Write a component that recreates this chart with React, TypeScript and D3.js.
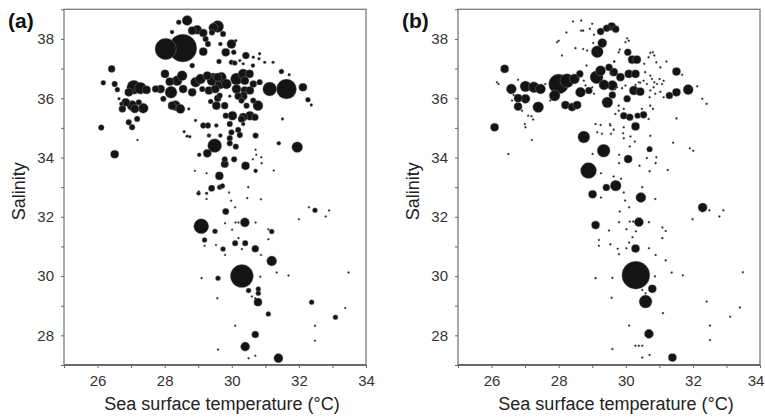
import { useEffect, useRef, RefObject } from "react";
import * as d3 from "d3";

// [sea surface temperature (°C), salinity, abundance]
const panelA: number[][] = [
  [26.42, 36.99, 6], [26.17, 36.52, 3], [26.51, 36.48, 4], [26.59, 36.29, 3],
  [27.08, 36.37, 23], [27.28, 36.34, 17], [27.46, 36.28, 8], [26.93, 36.2, 8],
  [26.84, 35.86, 8], [27.03, 35.75, 12], [26.74, 35.64, 6], [27.11, 35.64, 8],
  [27.36, 35.66, 12], [27.23, 35.86, 4], [27.18, 35.3, 4], [26.93, 35.19, 4],
  [27.03, 35.02, 4], [26.11, 35.01, 4], [26.64, 35.98, 1], [26.71, 35.81, 2],
  [26.51, 34.11, 8], [27.19, 34.59, 0.5],
  [27.73, 36.31, 6], [27.88, 36.31, 8], [27.96, 35.98, 4], [28.19, 36.2, 17],
  [28.01, 36.82, 8], [28.15, 36.56, 8], [28.37, 36.59, 12], [28.52, 36.76, 12],
  [28.55, 36.31, 8], [28.32, 35.75, 12], [28.47, 35.64, 10], [28.22, 35.75, 8],
  [28.03, 37.66, 54], [28.54, 37.69, 93], [29.15, 37.57, 8], [28.82, 37.1, 3],
  [28.67, 38.62, 12], [28.42, 38.56, 3], [28.22, 38.23, 2], [28.82, 38.28, 8],
  [28.97, 38.31, 10], [29.15, 38.2, 8], [29.22, 38.0, 4], [29.29, 37.83, 4],
  [29.58, 38.42, 17], [29.45, 38.38, 10], [29.41, 38.22, 4], [29.66, 37.83, 2],
  [28.92, 36.54, 12], [29.07, 36.65, 12], [29.27, 36.76, 8], [29.41, 36.59, 12],
  [29.58, 36.71, 8], [29.66, 36.48, 12], [28.82, 36.2, 8], [29.12, 36.31, 4],
  [29.32, 36.26, 8], [29.51, 36.31, 8], [28.72, 35.64, 1], [28.92, 35.25, 1],
  [29.15, 35.08, 4], [29.29, 35.08, 4], [29.54, 35.08, 2], [29.37, 35.89, 3],
  [29.58, 36.0, 6], [29.32, 34.74, 2], [29.66, 34.74, 2], [28.67, 34.72, 1],
  [29.74, 38.17, 4], [29.99, 37.83, 10], [30.12, 37.94, 1], [29.82, 37.55, 8],
  [30.06, 37.55, 3], [30.42, 37.44, 6], [30.64, 37.38, 1], [30.83, 37.5, 1],
  [30.81, 37.33, 1], [30.98, 37.21, 1], [31.23, 37.21, 1], [30.24, 37.27, 1],
  [30.34, 37.16, 1], [29.62, 37.24, 3], [29.99, 37.21, 3], [30.09, 37.19, 3],
  [30.63, 37.1, 2], [31.48, 36.9, 3], [31.71, 36.79, 1],
  [29.44, 36.65, 17], [29.69, 36.71, 12], [29.84, 36.48, 12], [30.14, 36.65, 17],
  [30.34, 36.82, 12], [30.53, 36.82, 8], [30.39, 36.59, 8], [30.64, 36.48, 6],
  [30.14, 36.31, 10], [30.39, 36.26, 8], [30.54, 36.26, 8], [30.83, 36.54, 4],
  [31.13, 36.31, 23], [31.63, 36.31, 48], [32.12, 36.37, 8], [32.27, 35.95, 3],
  [32.37, 35.77, 1], [31.51, 35.3, 1], [30.78, 35.75, 12], [30.64, 35.92, 4],
  [30.44, 35.75, 4], [30.29, 35.92, 4], [30.34, 36.07, 8], [30.19, 36.07, 6],
  [29.94, 36.07, 1], [29.64, 36.09, 4], [29.79, 35.75, 6], [29.54, 35.75, 8],
  [29.82, 35.41, 4], [30.02, 35.41, 10], [30.29, 35.3, 6], [30.34, 35.36, 8],
  [30.54, 35.41, 10], [30.69, 35.36, 6], [29.94, 35.13, 4], [30.34, 35.13, 2],
  [29.99, 34.85, 4], [30.71, 34.74, 4], [29.94, 34.65, 4], [29.94, 34.48, 4],
  [30.19, 34.93, 4], [30.24, 34.76, 4],
  [29.49, 34.4, 23], [29.27, 34.14, 8], [29.03, 34.09, 2], [30.12, 34.37, 4],
  [29.79, 33.94, 4], [29.79, 33.78, 7], [30.07, 33.94, 4], [30.41, 33.72, 8],
  [30.71, 33.55, 2], [31.4, 34.48, 2], [31.95, 34.35, 14], [29.63, 33.38, 8],
  [29.4, 32.96, 5], [29.64, 33.0, 3], [29.72, 33.04, 3], [29.01, 32.79, 2], [29.25, 32.79, 1],
  [28.58, 34.87, 1], [28.75, 34.7, 1],
  [29.82, 32.18, 5], [29.09, 31.68, 27], [30.39, 31.81, 10], [29.5, 31.51, 3],
  [31.19, 31.5, 3], [29.19, 31.22, 3], [30.1, 31.11, 4], [30.4, 31.11, 4],
  [29.74, 30.91, 3], [30.7, 30.92, 6], [31.19, 30.51, 12], [30.3, 30.0, 63],
  [29.59, 29.93, 3], [30.5, 29.51, 3], [30.79, 29.56, 3], [30.79, 29.42, 3],
  [30.78, 29.12, 8], [32.38, 29.12, 3], [31.09, 28.72, 3], [33.09, 28.61, 3],
  [30.7, 28.03, 6], [30.4, 27.62, 10], [31.39, 27.23, 10], [32.48, 32.22, 3],
  [29.3, 34.76, 0.5], [30.71, 34.26, 0.5], [30.73, 34.09, 0.5], [30.63, 33.94, 0.5],
  [30.88, 34.01, 0.5], [30.89, 33.81, 0.5], [31.25, 33.56, 0.5], [28.9, 33.55, 0.5],
  [29.25, 33.47, 0.5], [29.92, 32.82, 0.5], [30.49, 33.0, 0.5], [29.02, 32.85, 0.5],
  [29.25, 32.6, 0.5], [29.98, 32.54, 0.5], [30.46, 32.63, 0.5], [30.87, 32.59, 0.5],
  [30.1, 32.32, 0.5], [29.8, 31.78, 0.5], [30.11, 31.81, 0.5], [30.2, 31.81, 0.5],
  [30.71, 31.81, 0.5], [31.09, 31.58, 0.5], [31.09, 31.24, 0.5], [30.2, 31.28, 0.5],
  [30.01, 31.56, 0.5], [29.19, 31.02, 0.5], [29.53, 31.05, 0.5], [30.3, 30.91, 0.5],
  [29.8, 30.71, 0.5], [30.87, 30.71, 0.5], [31.34, 30.12, 0.5], [31.69, 30.02, 0.5],
  [30.85, 29.98, 0.5], [33.48, 30.12, 0.5], [29.1, 29.93, 0.5], [30.6, 29.31, 0.5],
  [30.7, 29.25, 0.5], [29.57, 29.25, 0.5], [33.38, 28.92, 0.5], [30.1, 28.32, 0.5],
  [32.48, 28.32, 0.5], [32.48, 27.82, 0.5], [29.59, 27.52, 0.5], [30.5, 27.23, 0.5],
  [30.7, 27.31, 0.5], [32.3, 32.32, 0.5], [32.9, 32.21, 0.5], [32.8, 32.01, 0.5],
  [32.0, 31.92, 0.5],
];

const panelB: number[][] = [
  [26.39, 36.99, 8], [26.59, 36.31, 12], [26.79, 36.0, 8], [27.01, 35.98, 10],
  [26.79, 35.72, 8], [27.01, 36.4, 14], [27.26, 36.37, 14], [27.46, 36.31, 12],
  [27.39, 35.7, 14], [26.09, 35.02, 8], [28.0, 36.48, 48], [28.25, 36.59, 23],
  [27.88, 36.09, 14], [28.2, 35.77, 8], [28.4, 35.7, 8], [28.55, 35.77, 8],
  [28.47, 36.65, 12], [28.63, 36.82, 6], [28.65, 36.2, 12], [28.9, 36.26, 6],
  [29.13, 36.71, 20], [29.25, 36.93, 12], [29.15, 37.57, 17], [29.3, 37.86, 10],
  [29.25, 38.25, 6], [29.43, 38.36, 6], [29.58, 38.42, 8], [29.7, 38.33, 6],
  [29.45, 35.86, 14], [29.6, 36.11, 6], [29.6, 36.43, 12], [29.5, 37.04, 6],
  [29.35, 36.45, 12],
  [30.06, 37.55, 6], [30.19, 37.3, 8], [30.33, 37.3, 8], [29.64, 36.88, 8],
  [29.84, 36.71, 8], [30.09, 36.82, 8], [30.29, 36.82, 8], [31.51, 36.9, 8],
  [30.24, 36.26, 10], [30.43, 36.22, 8], [30.04, 35.98, 6], [31.3, 36.09, 6],
  [31.51, 36.2, 8], [31.86, 36.29, 12], [29.94, 35.41, 6], [30.12, 35.36, 6],
  [30.35, 35.41, 4], [30.53, 35.44, 6], [30.29, 35.05, 8],
  [28.75, 34.69, 17], [29.34, 34.23, 20], [28.89, 33.56, 30], [30.07, 33.95, 8],
  [30.71, 34.28, 4], [29.42, 32.99, 6], [29.7, 33.05, 14], [29.01, 32.76, 8],
  [30.45, 32.65, 12], [32.29, 32.31, 10], [29.1, 31.72, 8], [30.39, 31.82, 10],
  [30.29, 30.93, 8], [30.3, 30.03, 93], [30.79, 29.57, 8], [30.59, 29.14, 20],
  [30.69, 28.05, 10], [31.39, 27.25, 8],
  // very small catches
  [28.43, 38.59, 0.5], [28.67, 38.62, 0.5], [29.0, 38.51, 0.5], [28.23, 38.22, 0.5],
  [28.67, 38.28, 0.5], [28.73, 38.28, 0.5], [28.93, 38.34, 0.5], [29.05, 38.14, 0.5],
  [27.95, 37.89, 0.5], [28.0, 37.94, 0.5], [28.5, 37.69, 0.5], [28.73, 37.66, 0.5],
  [28.85, 37.61, 0.5], [28.1, 37.44, 0.5], [29.03, 37.86, 0.5], [28.83, 37.1, 0.5],
  [26.16, 36.54, 0.5], [26.21, 36.48, 0.5], [26.79, 36.62, 0.5], [26.61, 35.92, 0.5],
  [26.91, 35.58, 0.5], [27.09, 35.41, 0.5], [27.19, 35.39, 0.5], [27.24, 35.28, 0.5],
  [26.99, 35.13, 0.5], [27.01, 35.02, 0.5], [26.66, 36.11, 0.5], [27.6, 36.48, 0.5],
  [27.75, 35.92, 0.5], [28.75, 36.59, 0.5], [28.8, 36.43, 0.5], [29.0, 36.37, 0.5],
  [29.05, 36.15, 0.5], [29.65, 37.24, 0.5], [29.55, 36.82, 0.5], [29.68, 36.31, 0.5],
  [29.1, 35.13, 0.5], [29.25, 35.1, 0.5], [29.53, 35.13, 0.5], [29.15, 34.85, 0.5],
  [26.5, 34.12, 0.5],
  [30.04, 38.02, 0.5], [30.09, 37.94, 0.5], [29.99, 37.89, 0.5], [29.82, 37.64, 0.5],
  [29.79, 37.55, 0.5], [29.66, 37.24, 0.5], [30.73, 37.53, 0.5], [30.81, 37.55, 0.5],
  [30.85, 37.44, 0.5], [30.68, 37.38, 0.5], [30.91, 37.21, 0.5], [30.55, 37.16, 0.5],
  [31.21, 37.24, 0.5], [31.03, 37.04, 0.5], [30.58, 36.88, 0.5], [30.73, 36.76, 0.5],
  [30.78, 36.65, 0.5], [30.85, 36.54, 0.5], [30.93, 36.48, 0.5], [31.08, 36.48, 0.5],
  [31.13, 36.59, 0.5], [31.01, 36.65, 0.5], [30.53, 36.59, 0.5], [30.43, 36.52, 0.5],
  [30.63, 36.48, 0.5], [30.73, 36.26, 0.5], [30.83, 36.37, 0.5], [30.88, 36.15, 0.5],
  [31.03, 36.22, 0.5], [31.13, 36.03, 0.5], [30.71, 36.03, 0.5], [29.74, 36.37, 0.5],
  [29.89, 36.34, 0.5], [29.99, 36.43, 0.5], [30.29, 36.45, 0.5], [30.39, 36.54, 0.5],
  [32.28, 35.98, 0.5], [32.41, 35.81, 0.5], [32.13, 36.4, 0.5], [31.68, 36.79, 0.5],
  [31.51, 35.32, 0.5], [29.79, 35.75, 0.5], [29.94, 35.64, 0.5], [29.79, 35.58, 0.5],
  [29.69, 35.47, 0.5], [30.73, 35.75, 0.5], [30.81, 35.64, 0.5], [30.48, 35.64, 0.5],
  [30.68, 35.3, 0.5], [29.54, 35.08, 0.5], [29.64, 34.94, 0.5], [29.94, 35.02, 0.5],
  [27.2, 34.59, 0.5], [29.29, 34.8, 0.5], [29.56, 34.8, 0.5], [29.92, 34.82, 0.5],
  [29.94, 34.65, 0.5], [30.14, 34.71, 0.5], [30.27, 34.54, 0.5], [30.73, 34.73, 0.5],
  [31.41, 34.5, 0.5], [31.91, 34.31, 0.5], [32.01, 34.23, 0.5], [29.01, 34.12, 0.5],
  [30.12, 34.37, 0.5], [29.8, 34.09, 0.5], [29.8, 33.81, 0.5], [30.91, 34.01, 0.5],
  [30.89, 33.81, 0.5], [30.63, 33.98, 0.5], [30.41, 33.72, 0.5], [30.71, 33.54, 0.5],
  [31.25, 33.58, 0.5], [29.26, 33.47, 0.5], [29.64, 33.36, 0.5], [29.86, 33.28, 0.5],
  [29.94, 32.82, 0.5], [29.26, 32.65, 0.5], [29.98, 32.55, 0.5], [30.1, 32.32, 0.5],
  [30.49, 33.0, 0.5], [30.88, 32.6, 0.5], [29.82, 32.18, 0.5], [32.49, 32.22, 0.5],
  [32.91, 32.22, 0.5], [32.79, 32.01, 0.5], [31.99, 31.92, 0.5], [29.8, 31.82, 0.5],
  [30.12, 31.84, 0.5], [30.22, 31.84, 0.5], [30.69, 31.82, 0.5], [29.5, 31.54, 0.5],
  [30.02, 31.58, 0.5], [30.3, 31.51, 0.5], [31.09, 31.64, 0.5], [31.19, 31.52, 0.5],
  [31.09, 31.28, 0.5], [29.2, 31.22, 0.5], [29.2, 31.02, 0.5], [29.54, 31.07, 0.5],
  [30.1, 31.13, 0.5], [30.2, 31.31, 0.5], [29.76, 30.92, 0.5], [30.02, 30.94, 0.5],
  [30.69, 30.94, 0.5], [29.8, 30.74, 0.5], [30.89, 30.71, 0.5], [31.19, 30.53, 0.5],
  [31.37, 30.12, 0.5], [31.7, 30.03, 0.5], [30.87, 29.99, 0.5], [33.49, 30.13, 0.5],
  [29.1, 29.93, 0.5], [29.6, 29.94, 0.5], [30.49, 29.53, 0.5], [30.59, 29.42, 0.5],
  [29.58, 29.27, 0.5], [31.11, 28.75, 0.5], [32.41, 29.14, 0.5], [33.4, 28.94, 0.5],
  [33.11, 28.63, 0.5], [30.1, 28.33, 0.5], [32.51, 28.33, 0.5], [32.51, 27.84, 0.5],
  [29.6, 27.54, 0.5], [30.29, 27.65, 0.5], [30.39, 27.65, 0.5], [30.49, 27.65, 0.5],
  [30.49, 27.25, 0.5], [30.71, 27.34, 0.5],
];

const xTicks = [26, 28, 30, 32, 34];
const yTicks = [28, 30, 32, 34, 36, 38];
const panelLabels = ["(a)", "(b)"];
const xTitle = "Sea surface temperature (°C)";
const yTitle = "Salinity";

const width = 765;
const height = 417;
const plotTop = 9.3;
const plotBottom = 365;
const plotWidth = 302;
const panelLefts = [64, 458];

const drawPanel = (svgRef: RefObject<SVGSVGElement>, data: number[][], left: number, label: string) => {
  const svg = d3.select(svgRef.current);
  const x = d3.scaleLinear().domain([25, 34]).range([left, left + plotWidth]);
  const y = d3.scaleLinear().domain([27, 39]).range([plotBottom, plotTop]);
  const r = d3.scaleSqrt().domain([0, 100]).range([0, 14.5]);
  const font = "Liberation Sans, Arial, sans-serif";

  const g = svg.append("g");

  // circles, biggest first so the small ones stay visible
  g.append("g")
    .selectAll("circle")
    .data([...data].sort((a, b) => b[2] - a[2]))
    .join("circle")
    .attr("cx", (d) => x(d[0]))
    .attr("cy", (d) => y(d[1]))
    .attr("r", (d) => r(d[2]))
    .attr("fill", "#141414")
    .attr("stroke", "#8a8a8a")
    .attr("stroke-width", 0.4);

  // frame
  g.append("rect")
    .attr("x", left)
    .attr("y", plotTop)
    .attr("width", plotWidth)
    .attr("height", plotBottom - plotTop)
    .attr("fill", "none")
    .attr("stroke", "#7a7a7a")
    .attr("stroke-width", 1.3);

  g.append("line")
    .attr("x1", left).attr("x2", left + plotWidth)
    .attr("y1", plotBottom).attr("y2", plotBottom)
    .attr("stroke", "#555").attr("stroke-width", 1.5);

  // x axis
  g.append("g")
    .attr("transform", `translate(0, ${plotBottom})`)
    .call(d3.axisBottom(x).tickValues(d3.range(25, 35)).tickSize(3).tickPadding(7)
      .tickFormat((v) => (xTicks.includes(+v) ? String(v) : "")))
    .call((a) => a.select(".domain").remove())
    .call((a) => a.selectAll("line").attr("stroke", "#666"))
    .call((a) => a.selectAll("text").attr("font-size", 15).attr("font-family", font).attr("fill", "#333"))
    // keep the last label inside the page edge
    .call((a) => a.selectAll<SVGTextElement, number>("text")
      .filter((v) => x(v) + 9 > width)
      .attr("dx", (v) => width - 1 - (x(v) + 8.5)));

  // y axis
  g.append("g")
    .attr("transform", `translate(${left}, 0)`)
    .call(d3.axisLeft(y).tickValues(d3.range(27, 40)).tickSize(3).tickPadding(7)
      .tickFormat((v) => (yTicks.includes(+v) ? String(v) : "")))
    .call((a) => a.select(".domain").remove())
    .call((a) => a.selectAll("line").attr("stroke", "#666"))
    .call((a) => a.selectAll("text").attr("font-size", 15).attr("font-family", font).attr("fill", "#333"));

  g.append("text")
    .attr("x", left + plotWidth / 2 + 7)
    .attr("y", 410)
    .attr("text-anchor", "middle")
    .attr("font-family", font)
    .attr("font-size", 18)
    .attr("fill", "#222")
    .text(xTitle);

  g.append("text")
    .attr("transform", `translate(${left - 39}, ${(plotTop + plotBottom) / 2 + 4}) rotate(-90)`)
    .attr("text-anchor", "middle")
    .attr("font-family", font)
    .attr("font-size", 18)
    .attr("fill", "#222")
    .text(yTitle);

  g.append("text")
    .attr("x", left - 56)
    .attr("y", 28)
    .attr("font-family", font)
    .attr("font-size", 21)
    .attr("font-weight", "bold")
    .attr("fill", "#111")
    .text(label);
};

export default function App() {
  const svgRef = useRef<SVGSVGElement>(null);

  useEffect(() => {
    const svg = d3.select(svgRef.current);
    svg.selectAll("*").remove();
    drawPanel(svgRef, panelA, panelLefts[0], panelLabels[0]);
    drawPanel(svgRef, panelB, panelLefts[1], panelLabels[1]);
  }, []);

  return (
    <svg
      ref={svgRef}
      width={width}
      height={height}
      style={{ position: "absolute", left: 0, top: 0, background: "#fff" }}
    />
  );
}
